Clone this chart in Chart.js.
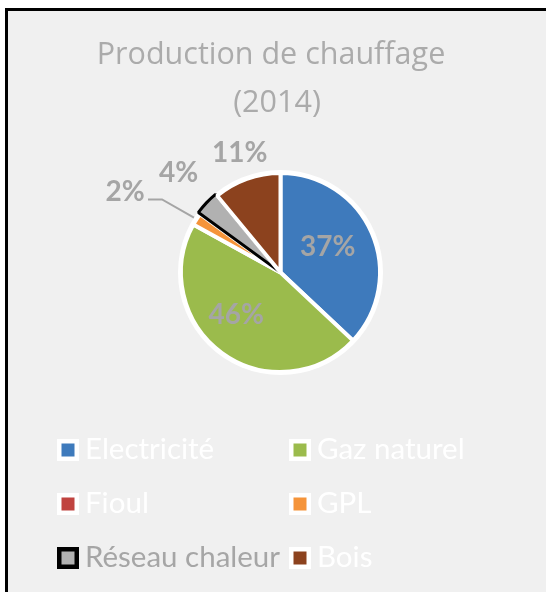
<!DOCTYPE html>
<html lang="fr">
<head>
  <meta charset="UTF-8" />
  <title>Production de chauffage (2014)</title>
  <script src="https://cdn.jsdelivr.net/npm/chart.js"></script>
  <style>
    html, body { margin: 0; padding: 0; background: #ffffff; overflow: hidden; }
    #wrap { position: relative; width: 546px; height: 592px; }
  </style>
</head>
<body>
<div id="wrap"><canvas id="chauffage"></canvas></div>
<script>
  // Data (share of heating production, %)
  const titleLines = ['Production de chauffage', '(2014)'];
  const sources = ['Electricité', 'Gaz naturel', 'Fioul', 'GPL', 'Réseau chaleur', 'Bois'];
  const shares = [37, 46, 0, 2, 4, 11];

  // Styles
  const fills = ['#3e7abc', '#9bbb4c', '#c0433f', '#f5943a', '#b1b1b1', '#8c421e'];
  const edges = ['#ffffff', '#ffffff', '#ffffff', '#ffffff', '#000000', '#ffffff'];
  const edgeWidths = [4, 4, 4, 4, 3, 4];
  const offsets = [0, 0, 0, 0, 5, 0];
  // label placement: [radius factor, angle shift in degrees]
  const labelPlace = [[0.54, -5], [0.62, 10], null, [1.76, -5], [1.43, 1], [1.27, 1]];
  const legendText = ['#ffffff', '#ffffff', '#ffffff', '#ffffff', '#a6a6a6', '#ffffff'];

  const FONT = 'Lato, "Open Sans", sans-serif';
  const total = shares.reduce((a, b) => a + b, 0);

  const frame = {
    id: 'frame',
    beforeDraw(chart) {
      const c = chart.ctx;
      c.save();
      c.fillStyle = '#ffffff';
      c.fillRect(0, 0, chart.width, chart.height);
      c.fillStyle = '#f0f0f0';
      c.fillRect(6, 9, chart.width, chart.height);
      c.strokeStyle = '#000000';
      c.lineWidth = 3;
      c.beginPath();
      c.moveTo(6.5, chart.height);
      c.lineTo(6.5, 9.5);
      c.lineTo(chart.width, 9.5);
      c.stroke();

      // title
      c.fillStyle = '#ababab';
      c.font = '30.5px "Open Sans", sans-serif';
      c.textAlign = 'center';
      c.textBaseline = 'alphabetic';
      c.fillText(titleLines[0], 271, 64);
      c.fillText(titleLines[1], 277, 112);
      c.restore();
    },
    beforeDatasetsDraw(chart) {
      // white halo round the pie
      const arc = chart.getDatasetMeta(0).data[0];
      const c = chart.ctx;
      c.save();
      c.fillStyle = '#ffffff';
      c.beginPath();
      c.arc(arc.x, arc.y, arc.outerRadius + 3, 0, Math.PI * 2);
      c.fill();
      c.restore();
    }
  };

  const pieLabels = {
    id: 'pieLabels',
    afterDatasetsDraw(chart) {
      const c = chart.ctx;
      const meta = chart.getDatasetMeta(0);
      c.save();
      c.font = 'bold 28px ' + FONT;
      c.fillStyle = '#a5a5a5';
      c.textAlign = 'center';
      c.textBaseline = 'middle';
      meta.data.forEach((arc, i) => {
        const place = labelPlace[i];
        if (!place || !shares[i]) return;
        const p = arc.getProps(['x', 'y', 'startAngle', 'endAngle', 'outerRadius'], true);
        const mid = (p.startAngle + p.endAngle) / 2;
        const a = mid + place[1] * Math.PI / 180;
        const r = p.outerRadius * place[0];
        const lx = p.x + Math.cos(a) * r;
        const ly = p.y + Math.sin(a) * r;
        c.fillText(Math.round(shares[i] / total * 100) + '%', lx, ly);
        if (place[0] > 1.6) {
          // leader line
          c.strokeStyle = '#a5a5a5';
          c.lineWidth = 2;
          c.beginPath();
          c.moveTo(lx + 23, ly + 7.5);
          c.lineTo(lx + 37, ly + 7.5);
          c.lineTo(p.x + Math.cos(mid) * (p.outerRadius + 3), p.y + Math.sin(mid) * (p.outerRadius + 3));
          c.stroke();
        }
      });
      c.restore();
    }
  };

  const boxLegend = {
    id: 'boxLegend',
    afterDraw(chart) {
      const c = chart.ctx;
      const cols = [57, 289];
      const rows = [450, 504, 558];
      c.save();
      c.font = '29.5px ' + FONT;
      c.textAlign = 'left';
      c.textBaseline = 'alphabetic';
      sources.forEach((name, i) => {
        const bx = cols[i % 2];
        const by = rows[Math.floor(i / 2)];
        c.fillStyle = edges[i] === '#000000' ? '#000000' : '#ffffff';
        c.fillRect(bx, by - 11, 22, 22);
        c.fillStyle = fills[i];
        c.fillRect(bx + 4.5, by - 6.5, 13, 13);
        c.fillStyle = legendText[i];
        c.fillText(name, bx + 28, by + 8.5);
      });
      c.restore();
    }
  };

  new Chart(document.getElementById('chauffage'), {
    type: 'pie',
    data: {
      labels: sources,
      datasets: [{
        data: shares,
        backgroundColor: fills,
        borderColor: edges,
        borderWidth: edgeWidths,
        offset: offsets,
        hoverOffset: 0
      }]
    },
    options: {
      responsive: true,
      maintainAspectRatio: false,
      animation: false,
      radius: 99.5,
      layout: { padding: { left: 60, right: 45, top: 150, bottom: 197 } },
      plugins: {
        legend: { display: false },
        title: { display: false },
        tooltip: { enabled: false }
      }
    },
    plugins: [frame, pieLabels, boxLegend]
  });
</script>
</body>
</html>
